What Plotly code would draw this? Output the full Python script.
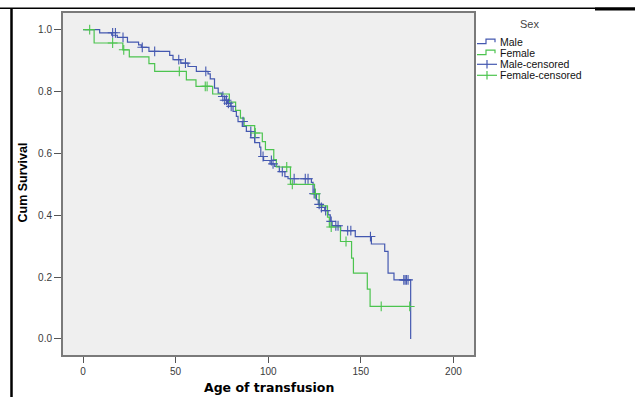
import plotly.graph_objects as go

# ---------------- data ----------------
male_t = [0, 9, 15.5, 18.5, 24, 30, 31.5, 35.6, 46.8, 48.6, 52.8, 56.7, 61.2, 67.5, 68.7, 71, 73,
          74.8, 76.5, 78, 79.5, 81, 82.8, 83.7, 86, 88.2, 90.6, 92.7, 95.4, 96, 97.5, 101, 103.5,
          106, 109, 110.7, 123.3, 124.2, 126, 127, 129, 130.5, 132.3, 133.5, 134.5, 139.1, 147,
          155.7, 162.9, 164.7, 167.9, 176.9]
male_s = [1.0, 0.99, 0.982, 0.975, 0.96, 0.951, 0.943, 0.93, 0.917, 0.903, 0.892, 0.881, 0.865,
          0.857, 0.841, 0.811, 0.795, 0.784, 0.772, 0.762, 0.752, 0.736, 0.72, 0.703, 0.687, 0.671,
          0.651, 0.635, 0.62, 0.59, 0.577, 0.566, 0.558, 0.541, 0.525, 0.518, 0.506, 0.47, 0.45,
          0.435, 0.425, 0.415, 0.401, 0.38, 0.366, 0.35, 0.331, 0.307, 0.283, 0.213, 0.191, 0.0]

male_cens_t = [16, 17.5, 21.6, 32, 38.7, 51.7, 55.3, 66.3, 75.5, 76.5, 77.5, 78.5, 80, 86.4, 90.6,
               92.7, 97.2, 101.7, 102.6, 107.6, 114, 120, 121.5, 124.8, 125.5, 127.5, 128.7, 131,
               134, 136.5, 137.7, 142.9, 144.6, 155.2, 173.2, 173.9, 174.6, 175.5]
male_cens_s = [0.99, 0.99, 0.975, 0.943, 0.93, 0.903, 0.892, 0.865, 0.784, 0.772, 0.772, 0.762,
               0.752, 0.703, 0.671, 0.651, 0.59, 0.577, 0.566, 0.541, 0.518, 0.518, 0.518, 0.47,
               0.47, 0.435, 0.425, 0.415, 0.38, 0.366, 0.366, 0.35, 0.35, 0.331, 0.191, 0.191,
               0.191, 0.191]

female_t = [0, 6, 21.5, 25, 35.6, 38.7, 55.8, 61, 70, 79, 82.4, 85, 87, 92.7, 96.8, 98.5, 103,
            104.4, 112, 125, 127.5, 132, 133, 139, 145, 146, 153.5, 155, 177]
female_s = [1.0, 0.957, 0.935, 0.912, 0.89, 0.865, 0.838, 0.817, 0.792, 0.766, 0.739, 0.714, 0.69,
            0.666, 0.638, 0.612, 0.58, 0.556, 0.5, 0.47, 0.43, 0.394, 0.362, 0.315, 0.261, 0.213,
            0.161, 0.105, 0.105]

female_cens_t = [3.6, 16, 22, 52, 66, 67, 93, 110, 113, 125.5, 134, 142, 161, 176.4]
female_cens_s = [1.0, 0.957, 0.935, 0.865, 0.817, 0.817, 0.666, 0.556, 0.5, 0.47, 0.362, 0.315,
                 0.105, 0.105]

x_ticks = [0, 50, 100, 150, 200]
y_ticks = [0.0, 0.2, 0.4, 0.6, 0.8, 1.0]
y_tick_labels = ["0.0", "0.2", "0.4", "0.6", "0.8", "1.0"]

legend_title = "Sex"
legend_labels = ["Male", "Female", "Male-censored", "Female-censored"]

BLUE = "#4458B0"
GREEN = "#4CC44F"

# ---------------- figure ----------------
W, H = 635, 397
L, R, T, B = 63, 161, 13, 42

fig = go.Figure()
fig.add_trace(go.Scatter(x=male_t, y=male_s, mode="lines", line=dict(color=BLUE, width=1.2, shape="hv"),
                         name="Male", showlegend=False, hoverinfo="skip"))
fig.add_trace(go.Scatter(x=female_t, y=female_s, mode="lines", line=dict(color=GREEN, width=1.2, shape="hv"),
                         name="Female", showlegend=False, hoverinfo="skip"))
fig.add_trace(go.Scatter(x=male_cens_t, y=male_cens_s, mode="markers",
                         marker=dict(symbol="cross-thin", size=7, line=dict(color=BLUE, width=1.1)),
                         name="Male-censored", showlegend=False))
fig.add_trace(go.Scatter(x=female_cens_t, y=female_cens_s, mode="markers",
                         marker=dict(symbol="cross-thin", size=7, line=dict(color=GREEN, width=1.1)),
                         name="Female-censored", showlegend=False))

pw, ph = W - L - R, H - T - B


def px(xp):
    return (xp - L) / pw


def py(yp):
    return (H - B - yp) / ph


shapes = []
annotations = []

# outer table borders
shapes.append(dict(type="line", xref="paper", yref="paper", x0=px(0), x1=px(635), y0=py(8.3), y1=py(8.3),
                   line=dict(color="black", width=1.5)))
shapes.append(dict(type="line", xref="paper", yref="paper", x0=px(595), x1=px(635), y0=py(9), y1=py(9),
                   line=dict(color="black", width=3)))
shapes.append(dict(type="line", xref="paper", yref="paper", x0=px(11.5), x1=px(11.5), y0=py(8.3), y1=py(397),
                   line=dict(color="black", width=2.5)))

# axis titles as text
annotations.append(dict(text="<b>Age of transfusion</b>", xref="paper", yref="paper", x=px(268.5), y=py(387),
                        showarrow=False, xanchor="center", yanchor="middle",
                        font=dict(family="DejaVu Sans, Verdana", size=12.5, color="black")))
annotations.append(dict(text="<b>Cum Survival</b>", xref="paper", yref="paper", x=px(22.5), y=py(183),
                        showarrow=False, xanchor="center", yanchor="middle", textangle=-90,
                        font=dict(family="Liberation Sans, Arial", size=12.5, color="black")))

# manual legend
annotations.append(dict(text=legend_title, xref="paper", yref="paper", x=px(529), y=py(24.5),
                        showarrow=False, xanchor="center", yanchor="middle",
                        font=dict(family="Liberation Sans, Arial", size=11, color="#444")))
rows = [41.7, 52.7, 64.3, 75.3]
colors = [BLUE, GREEN, BLUE, GREEN]
for i, (lab, yr, c) in enumerate(zip(legend_labels, rows, colors)):
    annotations.append(dict(text=lab, xref="paper", yref="paper", x=px(497.5), y=py(yr),
                            showarrow=False, xanchor="left", yanchor="middle",
                            font=dict(family="Liberation Sans, Arial", size=10.5, color="#111")))
    if i < 2:
        path = "M {} {} L {} {} L {} {} L {} {} L {} {}".format(
            px(477), py(yr + 2), px(486), py(yr + 2), px(486), py(yr - 2.5), px(495), py(yr - 2.5),
            px(495), py(yr + 0.5))
        shapes.append(dict(type="path", xref="paper", yref="paper", path=path,
                           line=dict(color=c, width=1.2)))
    else:
        shapes.append(dict(type="line", xref="paper", yref="paper", x0=px(477), x1=px(497),
                           y0=py(yr), y1=py(yr), line=dict(color=c, width=1.2)))
        shapes.append(dict(type="line", xref="paper", yref="paper", x0=px(487), x1=px(487),
                           y0=py(yr - 4.2), y1=py(yr + 4.2), line=dict(color=c, width=1.2)))

axis_common = dict(showgrid=False, zeroline=False, showline=True, mirror=True, linecolor="#7a7a7a",
                   linewidth=2, ticks="outside", tickcolor="#555", tickwidth=1, automargin=False,
                   tickfont=dict(family="Liberation Sans, Arial", size=10, color="#3a3a3a"))

fig.update_layout(
    width=W, height=H,
    margin=dict(l=L, r=R, t=T, b=B, pad=0),
    paper_bgcolor="white",
    plot_bgcolor="#EFEFEF",
    showlegend=False,
    hovermode=False,
    shapes=shapes,
    annotations=annotations,
    xaxis=dict(range=[-10.8, 211.1], tickvals=x_ticks, ticklen=6, **axis_common),
    yaxis=dict(range=[-0.052, 1.054], tickvals=y_ticks, ticktext=y_tick_labels, ticklen=7, **axis_common),
)

fig.write_html("out.html", config={"displayModeBar": False},
               post_script="document.body.style.margin='0px';document.body.style.overflow='hidden';")
